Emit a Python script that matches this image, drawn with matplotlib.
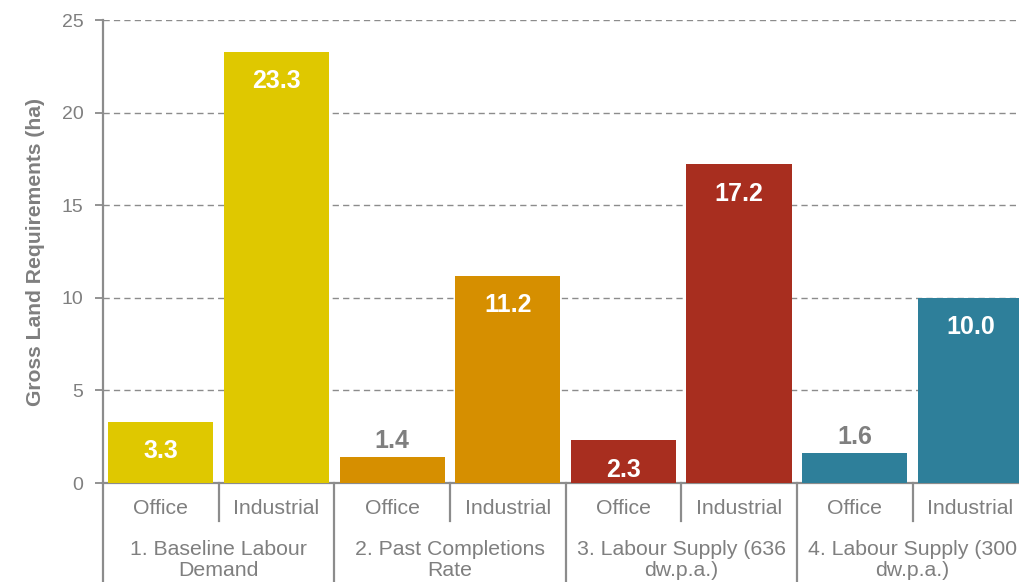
import matplotlib.pyplot as plt
import matplotlib.transforms as mtransforms

plt.rcParams['font.family'] = ['Liberation Sans', 'DejaVu Sans']

groups = ['1. Baseline Labour\nDemand', '2. Past Completions\nRate',
          '3. Labour Supply (636\ndw.p.a.)', '4. Labour Supply (300\ndw.p.a.)']
kinds = ['Office', 'Industrial']
values = [3.3, 23.3, 1.4, 11.2, 2.3, 17.2, 1.6, 10.0]
colors = ['#DFC800', '#DFC800', '#D68F00', '#D68F00',
          '#A82E1F', '#A82E1F', '#2E7F9A', '#2E7F9A']

grey = '#808080'
fig = plt.figure(figsize=(10.2, 5.82), dpi=100)
ax = fig.add_axes([0.101, 0.170, 0.907, 0.7956])

x = list(range(len(values)))
ax.bar(x, values, width=0.91, color=colors, zorder=3)
ax.set_xlim(-0.5, 7.5)
ax.set_ylim(0, 25)
ax.set_yticks([0, 5, 10, 15, 20, 25])
ax.yaxis.grid(True, linestyle=(0, (4.5, 3)), color='#8c8c8c', linewidth=1.0, zorder=0)
ax.tick_params(axis='y', colors=grey, labelsize=14, length=6, width=1.2, pad=8,
               labelcolor='#7f7f7f')
ax.set_xticks([])
for s in ['top', 'right']:
    ax.spines[s].set_visible(False)
for s in ['left', 'bottom']:
    ax.spines[s].set_color('#8c8c8c')
    ax.spines[s].set_linewidth(1.6)

ax.set_ylabel('Gross Land Requirements (ha)', fontsize=15.2, fontweight='bold',
              color='#7f7f7f', labelpad=12)

# value labels
for xi, v in zip(x, values):
    if v >= 2:
        ax.annotate(f'{v:.1f}', (xi, v), xytext=(0, -21), textcoords='offset points',
                    ha='center', va='center', color='white', fontsize=18,
                    fontweight='bold', zorder=4)
    else:
        ax.annotate(f'{v:.1f}', (xi, v), xytext=(0, 11.5), textcoords='offset points',
                    ha='center', va='center', color='#7f7f7f', fontsize=18,
                    fontweight='bold', zorder=4)

# two-level category axis
trans = mtransforms.blended_transform_factory(ax.transData, ax.transAxes)
ax_h = 0.7956 * 582
def ay(px):
    return -px / ax_h

for i in range(8):
    ax.text(i, ay(25.5), kinds[i % 2], transform=trans, ha='center', va='center',
            fontsize=15.3, color='#7f7f7f')
for g, name in enumerate(groups):
    ax.text(2 * g + 0.5, ay(77), name, transform=trans, ha='center', va='center',
            fontsize=15.3, color='#7f7f7f', linespacing=1.1)

for b in [-0.5, 1.5, 3.5, 5.5]:
    ax.plot([b, b], [0, ay(100)], transform=trans, color='#8c8c8c', lw=1.6,
            clip_on=False)
for b in [0.5, 2.5, 4.5, 6.5]:
    ax.plot([b, b], [0, ay(38)], transform=trans, color='#8c8c8c', lw=1.6,
            clip_on=False)

fig.savefig('out.png', dpi=100)
